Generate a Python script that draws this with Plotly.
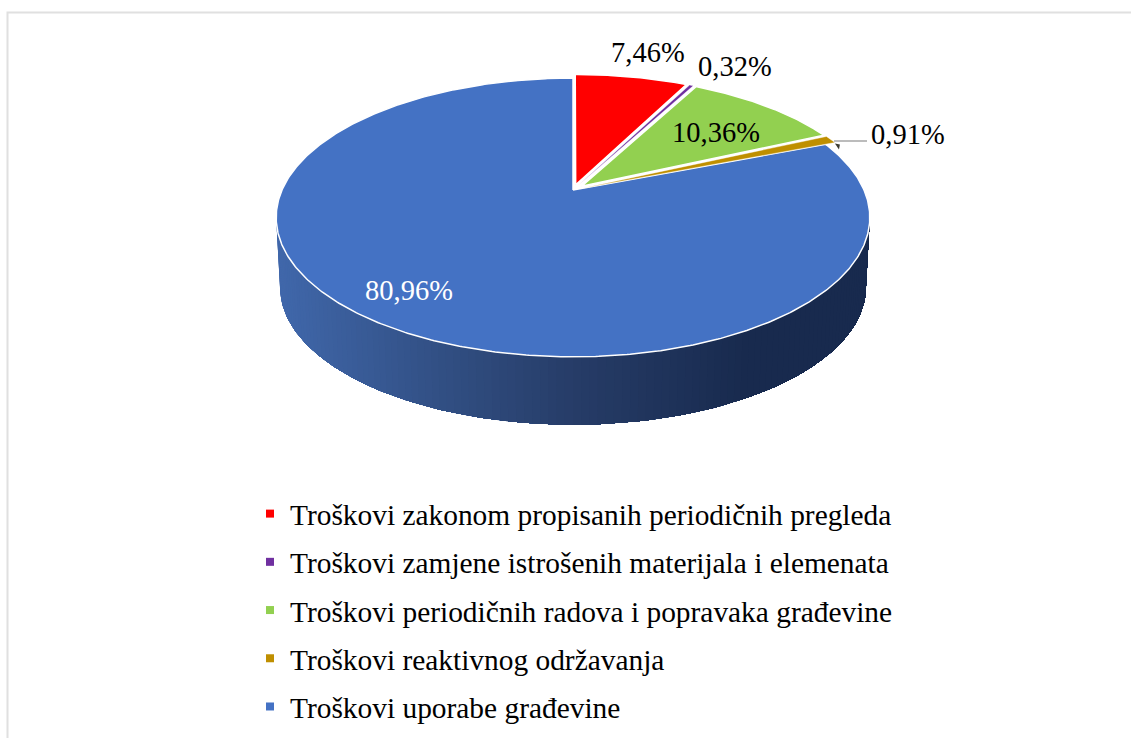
"""Perspective 3D pie of building maintenance cost shares, drawn on pixel axes."""

import numpy as np
import plotly.graph_objects as go

CATEGORIES = [
    'Troškovi zakonom propisanih periodičnih pregleda',
    'Troškovi zamjene istrošenih materijala i elemenata',
    'Troškovi periodičnih radova i popravaka građevine',
    'Troškovi reaktivnog održavanja',
    'Troškovi uporabe građevine',
]
VALUES = [7.46, 0.32, 10.36, 0.91, 80.96]
COLORS = ['#FF0000', '#7030A0', '#92D050', '#BF8F00', '#4472C4']
LABEL_COLORS = ['#000000', '#000000', '#000000', '#000000', '#FFFFFF']
LABEL_POS = [(648, 52), (735, 66), (716, 132), (908, 134), (409, 290)]
EXPLODE = [0.04, 0.04, 0.04, 0.04, 0.0]
EDGE_WIDTHS = [1.5, 0.4, 1.5, 0.4, 1.5]

WIDTH, HEIGHT = 1131, 738
FONT = 'Liberation Serif'

# Projection of the pie disc onto the page
CX, CY = 573, 190
RX, RY = 291, 134
PERSP = 0.197
# Bottom ring of the wall
WALL_CY, WALL_SCALE = 260, 0.987


def project(u, v, cy=CY, scale=1.0):
    d = 1 + PERSP * v
    return CX + scale * RX * u / d, cy - scale * RY * v / d


def ring(theta, cy=CY, scale=1.0):
    return project(np.sin(theta), np.cos(theta), cy, scale)


def wall_color(x):
    """Horizontal shading of the side wall."""
    stops_x = [279, 430, 573, 745, 870]
    r = np.interp(x, stops_x, [64, 50, 38, 24, 24])
    g = np.interp(x, stops_x, [103, 80, 60, 42, 42])
    b = np.interp(x, stops_x, [170, 133, 103, 78, 78])
    return f'rgb({r:.0f},{g:.0f},{b:.0f})'


fig = go.Figure()

# Side wall: each band runs on to the wall's far end, so no seams show.
# Angles grow clockwise, so the right end of the front comes first.
edge = np.arccos(-PERSP)
bands = np.linspace(2 * np.pi - edge, edge, 121)
for i in range(len(bands) - 1):
    ts = bands[i:]
    x_top, y_top = ring(ts)
    x_bot, y_bot = ring(ts, WALL_CY, WALL_SCALE)
    col = wall_color(float(x_top[0]))
    fig.add_trace(go.Scatter(
        x=np.concatenate([x_top, x_bot[::-1]]),
        y=np.concatenate([y_top, y_bot[::-1]]),
        mode='lines', fill='toself', fillcolor=col,
        line=dict(width=0, color=col),
        hoverinfo='skip', showlegend=False,
    ))

# Slices, largest first so the exploded ones sit on top
fractions = np.array(VALUES) / sum(VALUES)
ends = np.cumsum(fractions) * 2 * np.pi
starts = ends - fractions * 2 * np.pi
for i in [4, 0, 2, 1, 3]:
    mid = (starts[i] + ends[i]) / 2
    u0 = EXPLODE[i] * np.sin(mid)
    v0 = EXPLODE[i] * np.cos(mid)
    ts = np.linspace(starts[i], ends[i], max(6, int(fractions[i] * 720)))
    x, y = project(np.sin(ts) + u0, np.cos(ts) + v0)
    ax, ay = project(u0, v0)
    fig.add_trace(go.Scatter(
        x=np.concatenate([[ax], x, [ax]]),
        y=np.concatenate([[ay], y, [ay]]),
        mode='lines', fill='toself', fillcolor=COLORS[i],
        line=dict(width=EDGE_WIDTHS[i], color='#FFFFFF'),
        hoverinfo='skip', showlegend=False,
    ))

    # Sliver of wall showing under the tip of the reactive maintenance slice
    if i == 3:
        tx, ty = float(x[-1]), float(y[-1])
        fig.add_trace(go.Scatter(
            x=[tx, tx + 5, tx + 4, tx], y=[ty + 1, ty + 2, ty + 7, ty + 1],
            mode='lines', fill='toself', fillcolor='#3B3A30',
            line=dict(width=0, color='#3B3A30'),
            hoverinfo='skip', showlegend=False,
        ))

# Legend entries
for name, col in zip(CATEGORIES, COLORS):
    fig.add_trace(go.Scatter(
        x=[None], y=[None], mode='markers', name=name, legendgroup=name,
        marker=dict(symbol='square', size=8, color=col),
    ))

# Data labels
for val, (lx, ly), col in zip(VALUES, LABEL_POS, LABEL_COLORS):
    fig.add_annotation(
        x=lx, y=ly, text=f'{val:.2f}'.replace('.', ',') + '%', showarrow=False,
        font=dict(family=FONT, size=28.5, color=col),
    )

# Leader line of the reactive maintenance label
fig.add_shape(type='line', x0=834, y0=141, x1=867, y1=141,
              line=dict(color='#A6A6A6', width=1.5))

# Chart frame
fig.add_shape(type='path', path=f'M 7.5 {HEIGHT} L 7.5 12.5 L {WIDTH} 12.5',
              line=dict(color='#E0E0E0', width=2))

fig.update_layout(
    width=WIDTH, height=HEIGHT,
    autosize=False,
    margin=dict(l=0, r=0, t=0, b=0),
    paper_bgcolor='#FFFFFF', plot_bgcolor='#FFFFFF',
    xaxis=dict(range=[0, WIDTH], visible=False, fixedrange=True),
    yaxis=dict(range=[HEIGHT, 0], visible=False, fixedrange=True),
    legend=dict(
        x=250 / WIDTH, xanchor='left', y=1 - 488 / HEIGHT, yanchor='top',
        font=dict(family=FONT, size=29.4, color='#000000'),
        tracegroupgap=7, bgcolor='rgba(0,0,0,0)',
    ),
    hovermode=False,
)

# The page's default body margin would shift the figure by 8 px
fig.write_html('out.html', config={'displayModeBar': False},
               post_script="document.body.style.margin = '0';")
